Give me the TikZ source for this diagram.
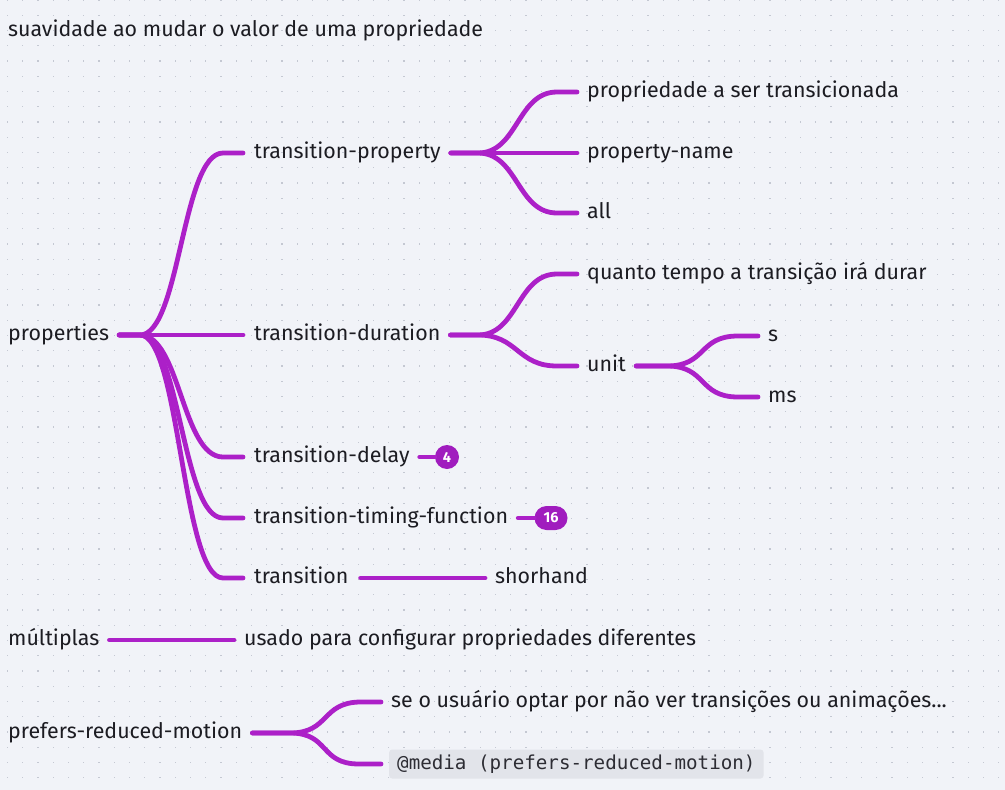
\documentclass[tikz,border=0pt]{standalone}
\usepackage{fontspec}
\setmainfont{Fira Sans}
\setmonofont{DejaVu Sans Mono}
\usetikzlibrary{calc}
\definecolor{bg}{RGB}{241,243,248}
\definecolor{dotc}{RGB}{196,200,210}
\definecolor{ink}{RGB}{28,28,34}
\definecolor{lilac}{RGB}{172,32,200}
\definecolor{badgec}{RGB}{160,28,190}
\definecolor{codebg}{RGB}{226,228,234}
\definecolor{codeink}{RGB}{45,45,52}
\tikzset{
  lbl/.style={anchor=west, inner sep=0pt, text height=15pt, text depth=3.7pt, text=ink, font=\fontsize{21.4}{24}\selectfont},
  conn/.style={draw=lilac, line width=4.8pt, line cap=round, line join=round},
  badge/.style={fill=badgec, text=white, font=\fontsize{14.5}{16}\selectfont\bfseries, inner sep=0pt, minimum height=24pt, rounded corners=12pt},
  codebox/.style={anchor=west, fill=codebg, text=codeink, rounded corners=3pt, inner xsep=8pt, minimum height=29pt, font=\ttfamily\fontsize{19.2}{21}\selectfont}
}
\begin{document}
\begin{tikzpicture}[x=1pt,y=-1pt]
\fill[bg] (0,0) rectangle (1005,790);
\useasboundingbox (0,0) rectangle (1005,790);
\foreach \i in {0,...,65}{
  \foreach \j in {0,...,51}{
    \fill[dotc] ({7.5+15.25*\i-0.6},{15.25*\j-0.6}) rectangle ++(1.2,1.2);
  }
}
% nodes
\node[lbl] (title) at (8,31) {suavidade ao mudar o valor de uma propriedade};
\node[lbl] (props) at (8,335) {properties};
\node[lbl] (tp) at (254,153) {transition-property};
\node[lbl] (td) at (254,335) {transition-duration};
\node[lbl] (tdl) at (254,457) {transition-delay};
\node[lbl] (ttf) at (254,518) {transition-timing-function};
\node[lbl] (tr) at (254,578) {transition};
\node[lbl] (pa) at (587,92) {propriedade a ser transicionada};
\node[lbl] (pn) at (587,153) {property-name};
\node[lbl] (all) at (587,213) {all};
\node[lbl] (qt) at (587,274) {quanto tempo a transição irá durar};
\node[lbl] (unit) at (587,366) {unit};
\node[lbl] (s) at (768,336) {s};
\node[lbl] (ms) at (768,397) {ms};
\node[lbl] (sh) at (495,578) {shorhand};
\node[lbl] (mult) at (8,640) {múltiplas};
\node[lbl] (usado) at (244,640) {usado para configurar propriedades diferentes};
\node[lbl] (prm) at (8,733) {prefers-reduced-motion};
\node[lbl] (se) at (391,702) {se o usuário optar por não ver transições ou animações...};
\node[codebox] (code) at (389,764) {@media (prefers-reduced-motion)};
\node[badge, minimum width=24pt] (b4) at (447,457) {4};
\node[badge, minimum width=33pt] (b16) at (551,518) {16};
% branch points
\coordinate (pB) at (140,335);
\coordinate (tpB) at (478,153);
\coordinate (tdB) at (478,335);
\coordinate (uB) at (667,366);
\coordinate (prB) at (290,733);
% connectors
\foreach \c in {tp,td,tdl,ttf,tr}{
  \draw[conn] ([xshift=10pt]props.east) -- (pB) .. controls +(40,0) and ([xshift=-72pt]\c.west) .. ([xshift=-31pt]\c.west) -- ([xshift=-11pt]\c.west);
}
\foreach \c in {pa,pn,all}{
  \draw[conn] ([xshift=10pt]tp.east) -- (tpB) .. controls +(40,0) and ([xshift=-70pt]\c.west) .. ([xshift=-30pt]\c.west) -- ([xshift=-10pt]\c.west);
}
\foreach \c in {qt,unit}{
  \draw[conn] ([xshift=10pt]td.east) -- (tdB) .. controls +(40,0) and ([xshift=-70pt]\c.west) .. ([xshift=-30pt]\c.west) -- ([xshift=-10pt]\c.west);
}
\foreach \c in {s,ms}{
  \draw[conn] ([xshift=10pt]unit.east) -- (uB) .. controls +(40,0) and ([xshift=-70pt]\c.west) .. ([xshift=-30pt]\c.west) -- ([xshift=-10pt]\c.west);
}
\draw[conn] ([xshift=10pt]prm.east) -- (prB) .. controls +(40,0) and ([xshift=-70pt]se.west) .. ([xshift=-30pt]se.west) -- ([xshift=-10pt]se.west);
\draw[conn] ([xshift=10pt]prm.east) -- (prB) .. controls +(40,0) and ([xshift=-70pt]code.west) .. ([xshift=-30pt]code.west) -- ([xshift=-8pt]code.west);
\draw[conn] ([xshift=10pt]tdl.east) -- (b4.west);
\draw[conn] ([xshift=10pt]ttf.east) -- (b16.west);
\draw[conn] ([xshift=12pt]tr.east) -- ([xshift=-10pt]sh.west);
\draw[conn] ([xshift=10pt]mult.east) -- ([xshift=-10pt]usado.west);
\end{tikzpicture}
\end{document}
